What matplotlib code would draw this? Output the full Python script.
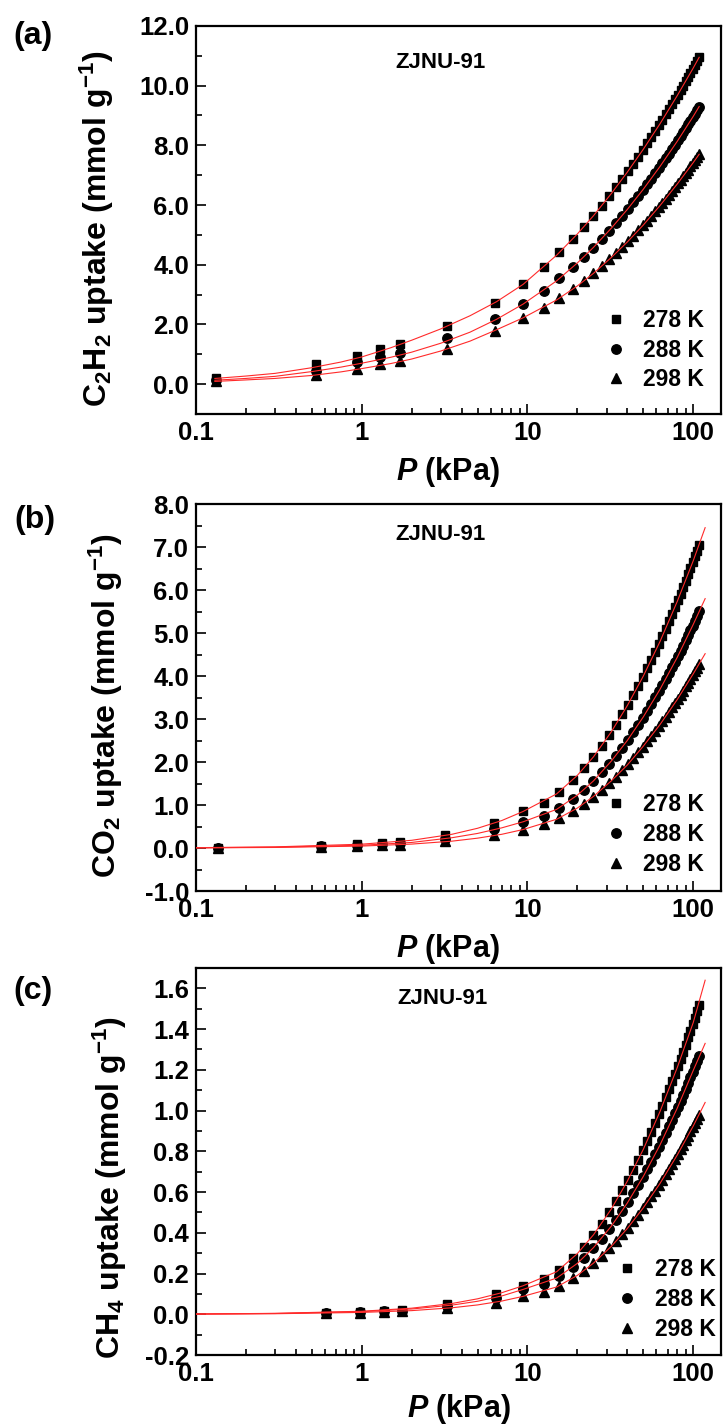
import matplotlib
matplotlib.use('Agg')
import matplotlib.pyplot as plt
from matplotlib.ticker import FixedLocator, LogLocator, NullFormatter

plt.rcParams['font.family'] = ['Liberation Sans', 'DejaVu Sans']
plt.rcParams['font.weight'] = 'bold'
plt.rcParams['mathtext.fontset'] = 'custom'
plt.rcParams['mathtext.rm'] = 'Liberation Sans:bold'
plt.rcParams['mathtext.it'] = 'Liberation Sans:bold:italic'
plt.rcParams['mathtext.bf'] = 'Liberation Sans:bold'

# ---------------- data ----------------
temps = ['278 K', '288 K', '298 K']

P_high = [9.4, 12.5, 15.6, 18.7, 21.8, 24.9, 28.0, 31.1, 34.2, 37.3, 40.4, 43.5,
          46.6, 49.7, 52.8, 55.9, 59.0, 62.1, 65.2, 68.3, 71.4, 74.5, 77.6, 80.7,
          83.8, 86.9, 90.0, 93.1, 96.2, 99.3, 102.4, 105.5, 108.6]
P_a_low = [0.132, 0.533, 0.933, 1.29, 1.70, 3.28, 6.35]
P_b_low = [0.135, 0.566, 0.94, 1.32, 1.69, 3.2, 6.3]
P_c_low = [0.607, 0.978, 1.36, 1.75, 3.28, 6.42]

# (a) C2H2
q_a278 = [0.19, 0.67, 0.94, 1.16, 1.36, 1.94, 2.73,
          3.340, 3.910, 4.411, 4.858, 5.263, 5.633, 5.975, 6.293, 6.590, 6.870, 7.134, 7.384,
          7.623, 7.850, 8.067, 8.276, 8.477, 8.669, 8.855, 9.034, 9.208, 9.377, 9.540, 9.698,
          9.851, 10.001, 10.146, 10.288, 10.427, 10.561, 10.694, 10.823, 10.948]
q_a288 = [0.15, 0.44, 0.75, 0.90, 1.05, 1.53, 2.18,
          2.680, 3.132, 3.541, 3.913, 4.255, 4.571, 4.866, 5.141, 5.400, 5.644, 5.877, 6.097,
          6.308, 6.510, 6.703, 6.888, 7.068, 7.240, 7.407, 7.567, 7.723, 7.875, 8.022, 8.164,
          8.303, 8.438, 8.570, 8.698, 8.824, 8.946, 9.066, 9.184, 9.298]
q_a298 = [0.12, 0.30, 0.50, 0.66, 0.78, 1.16, 1.79,
          2.220, 2.560, 2.878, 3.174, 3.449, 3.706, 3.948, 4.175, 4.389, 4.593, 4.787, 4.972,
          5.149, 5.319, 5.481, 5.639, 5.790, 5.937, 6.078, 6.215, 6.348, 6.478, 6.603, 6.725,
          6.844, 6.960, 7.073, 7.183, 7.291, 7.396, 7.500, 7.601, 7.699]

# (b) CO2
q_b278 = [0.01, 0.05, 0.09, 0.12, 0.15, 0.30, 0.59,
          0.850, 1.056, 1.310, 1.579, 1.850, 2.116, 2.376, 2.628, 2.872, 3.108, 3.336, 3.557,
          3.771, 3.979, 4.179, 4.375, 4.565, 4.749, 4.929, 5.104, 5.275, 5.441, 5.604, 5.762,
          5.917, 6.069, 6.218, 6.363, 6.506, 6.645, 6.783, 6.918, 7.049]
q_b288 = [0.01, 0.04, 0.07, 0.09, 0.11, 0.22, 0.45,
          0.610, 0.750, 0.938, 1.142, 1.350, 1.557, 1.760, 1.959, 2.151, 2.338, 2.520, 2.695,
          2.866, 3.032, 3.192, 3.348, 3.501, 3.648, 3.793, 3.933, 4.070, 4.204, 4.335, 4.463,
          4.587, 4.710, 4.829, 4.947, 5.062, 5.174, 5.286, 5.395, 5.501]
q_b298 = [0.00, 0.03, 0.05, 0.07, 0.08, 0.16, 0.30,
          0.430, 0.548, 0.700, 0.864, 1.030, 1.194, 1.355, 1.511, 1.662, 1.809, 1.952, 2.089,
          2.223, 2.353, 2.478, 2.601, 2.720, 2.835, 2.948, 3.057, 3.164, 3.269, 3.371, 3.471,
          3.568, 3.663, 3.757, 3.848, 3.938, 4.026, 4.112, 4.197, 4.280]

# (c) CH4
q_c278 = [0.008, 0.013, 0.018, 0.022, 0.05, 0.10,
          0.140, 0.171, 0.219, 0.274, 0.331, 0.388, 0.445, 0.501, 0.555, 0.608, 0.659, 0.709,
          0.758, 0.806, 0.852, 0.897, 0.940, 0.983, 1.025, 1.065, 1.105, 1.143, 1.181, 1.218,
          1.254, 1.290, 1.324, 1.359, 1.392, 1.425, 1.457, 1.489, 1.520]
q_c288 = [0.006, 0.011, 0.015, 0.018, 0.04, 0.08,
          0.122, 0.147, 0.186, 0.231, 0.278, 0.325, 0.372, 0.419, 0.464, 0.508, 0.551, 0.593,
          0.634, 0.673, 0.711, 0.749, 0.786, 0.821, 0.856, 0.890, 0.923, 0.955, 0.987, 1.018,
          1.048, 1.078, 1.107, 1.135, 1.163, 1.191, 1.218, 1.244, 1.270]
q_c298 = [0.004, 0.008, 0.011, 0.014, 0.03, 0.057,
          0.088, 0.109, 0.141, 0.176, 0.213, 0.250, 0.287, 0.323, 0.358, 0.392, 0.426, 0.458,
          0.489, 0.520, 0.550, 0.579, 0.607, 0.634, 0.661, 0.687, 0.713, 0.738, 0.762, 0.786,
          0.809, 0.832, 0.854, 0.876, 0.898, 0.919, 0.940, 0.960, 0.980]

# fitted isotherm curves (red lines)
fitP_a = [0.13, 0.2, 0.3, 0.5, 0.75, 1.0, 1.5, 2.0, 3.0, 4.5, 6.5, 9.4, 15, 20, 25, 32,
          40, 50, 63, 80, 100, 108.6]
fit_a278 = [0.19, 0.27, 0.36, 0.55, 0.74, 0.91, 1.22, 1.47, 1.85, 2.29, 2.76, 3.34, 4.32,
            5.03, 5.64, 6.38, 7.10, 7.87, 8.72, 9.66, 10.59, 10.95]
fit_a288 = [0.13, 0.19, 0.26, 0.42, 0.57, 0.70, 0.90, 1.07, 1.37, 1.74, 2.17, 2.68, 3.46,
            4.06, 4.58, 5.22, 5.85, 6.53, 7.29, 8.13, 8.97, 9.30]
fit_a298 = [0.09, 0.14, 0.19, 0.29, 0.41, 0.52, 0.69, 0.84, 1.11, 1.44, 1.82, 2.22, 2.82,
            3.29, 3.71, 4.24, 4.76, 5.33, 5.98, 6.70, 7.42, 7.70]

fitP_bc = [0.1, 0.3, 1.0, 2.0, 3.5, 5.0, 7.0, 9.4, 15, 20, 25, 32, 40, 50, 63, 80, 100, 118]
fit_b278 = [0.009, 0.027, 0.09, 0.18, 0.32, 0.46, 0.64, 0.85, 1.26, 1.69, 2.12, 2.70, 3.31,
            4.00, 4.80, 5.73, 6.68, 7.45]
fit_b288 = [0.0065, 0.02, 0.065, 0.13, 0.24, 0.34, 0.47, 0.61, 0.90, 1.23, 1.56, 2.02, 2.50,
            3.05, 3.69, 4.43, 5.20, 5.80]
fit_b298 = [0.0046, 0.014, 0.046, 0.092, 0.16, 0.23, 0.32, 0.43, 0.67, 0.93, 1.20, 1.56, 1.93,
            2.37, 2.87, 3.45, 4.05, 4.52]
fit_c278 = [0.0015, 0.0046, 0.015, 0.03, 0.053, 0.076, 0.106, 0.14, 0.209, 0.298, 0.390,
            0.516, 0.653, 0.810, 0.995, 1.210, 1.432, 1.64]
fit_c288 = [0.0013, 0.004, 0.013, 0.026, 0.045, 0.064, 0.09, 0.122, 0.178, 0.250, 0.327,
            0.432, 0.546, 0.677, 0.831, 1.011, 1.197, 1.33]
fit_c298 = [0.0009, 0.0028, 0.0092, 0.018, 0.032, 0.046, 0.065, 0.088, 0.134, 0.191, 0.251,
            0.333, 0.421, 0.523, 0.642, 0.781, 0.924, 1.04]

xticks = [0.1, 1, 10, 100]
xticklabels = ['0.1', '1', '10', '100']
yticks_a = [0, 2, 4, 6, 8, 10, 12]
yticks_b = [-1, 0, 1, 2, 3, 4, 5, 6, 7, 8]
yticks_c = [-0.2, 0.0, 0.2, 0.4, 0.6, 0.8, 1.0, 1.2, 1.4, 1.6]
yminor_a = [1, 3, 5, 7, 9, 11]
yminor_b = [-0.5, 0.5, 1.5, 2.5, 3.5, 4.5, 5.5, 6.5, 7.5]
yminor_c = [-0.1, 0.1, 0.3, 0.5, 0.7, 0.9, 1.1, 1.3, 1.5]

# ---------------- figure ----------------
fig = plt.figure(figsize=(7.24, 14.25), dpi=100)

panels = [
    dict(rect=[0.2707, 0.7095, 0.7251, 0.2723], Plow=P_a_low, q=[q_a278, q_a288, q_a298],
         fitP=fitP_a, fit=[fit_a278, fit_a288, fit_a298], ylim=(-1, 12), yt=yticks_a,
         ym=yminor_a, ylabel=r'C$_2$H$_2$ uptake (mmol g$^{-1}$)', tag='(a)',
         tagxy=(0.046, 0.9747), ylc=(-0.152, 0.477), xlc=(0.48, -0.105),
         zj=(0.465, 0.907), leg=(0.968, 0.058)),
    dict(rect=[0.2707, 0.3747, 0.7251, 0.2716], Plow=P_b_low, q=[q_b278, q_b288, q_b298],
         fitP=fitP_bc, fit=[fit_b278, fit_b288, fit_b298], ylim=(-1, 8), yt=yticks_b,
         ym=yminor_b, ylabel=r'CO$_2$ uptake (mmol g$^{-1}$)', tag='(b)',
         tagxy=(0.048, 0.6351), ylc=(-0.135, 0.48), xlc=(0.48, -0.105),
         zj=(0.465, 0.92), leg=(0.968, 0.040)),
    dict(rect=[0.2707, 0.0491, 0.7251, 0.2716], Plow=P_c_low, q=[q_c278, q_c288, q_c298],
         fitP=fitP_bc, fit=[fit_c278, fit_c288, fit_c298], ylim=(-0.2, 1.7), yt=yticks_c,
         ym=yminor_c, ylabel=r'CH$_4$ uptake (mmol g$^{-1}$)', tag='(c)',
         tagxy=(0.046, 0.3046), ylc=(-0.128, 0.434), xlc=(0.5, -0.096),
         zj=(0.47, 0.922), leg=(0.99, 0.037)),
]

markers = [('s', 6.3), ('o', 6.8), ('^', 7.3)]

for pn in panels:
    ax = fig.add_axes(pn['rect'])
    P = pn['Plow'] + P_high
    for (m, ms), qv, lab in zip(markers, pn['q'], temps):
        ax.plot(P, qv, linestyle='none', marker=m, ms=ms, color='k', mec='k',
                label=lab, zorder=2)
    for fv in pn['fit']:
        ax.plot(pn['fitP'], fv, color='#ff2a2a', lw=0.8, zorder=3)

    ax.set_xscale('log')
    ax.set_xlim(0.1, 147)
    ax.set_ylim(*pn['ylim'])
    ax.set_xticks(xticks)
    ax.set_xticklabels(xticklabels)
    ax.xaxis.set_minor_locator(LogLocator(base=10, subs=range(2, 10)))
    ax.xaxis.set_minor_formatter(NullFormatter())
    ax.set_yticks(pn['yt'])
    ax.set_yticklabels(['%.1f' % v for v in pn['yt']])
    ax.yaxis.set_minor_locator(FixedLocator(pn['ym']))

    for s in ax.spines.values():
        s.set_linewidth(1.6)
    ax.tick_params(which='both', direction='in', top=False, right=False,
                   width=1.2, labelsize=18.5)
    ax.tick_params(which='major', length=7, pad=5)
    ax.tick_params(which='minor', length=4)
    for t in ax.get_xticklabels() + ax.get_yticklabels():
        t.set_fontweight('bold')

    ax.set_ylabel(pn['ylabel'], fontsize=23, fontweight='bold')
    ax.yaxis.set_label_coords(*pn['ylc'])
    ax.set_xlabel(r'$\mathit{P}$ (kPa)', fontsize=22, fontweight='bold')
    ax.xaxis.set_label_coords(*pn['xlc'])

    ax.text(pn['zj'][0], pn['zj'][1], 'ZJNU-91', transform=ax.transAxes,
            ha='center', va='center', fontsize=16, fontweight='bold')

    leg = ax.legend(loc='lower right', bbox_to_anchor=pn['leg'], frameon=False,
                    fontsize=16.5, handlelength=1.0, handletextpad=0.7,
                    labelspacing=0.3, borderpad=0, borderaxespad=0, numpoints=1)
    for t in leg.get_texts():
        t.set_fontweight('bold')

    fig.text(pn['tagxy'][0], pn['tagxy'][1], pn['tag'], ha='center', va='center',
             fontsize=23, fontweight='bold')

fig.savefig('out.png', dpi=100)
